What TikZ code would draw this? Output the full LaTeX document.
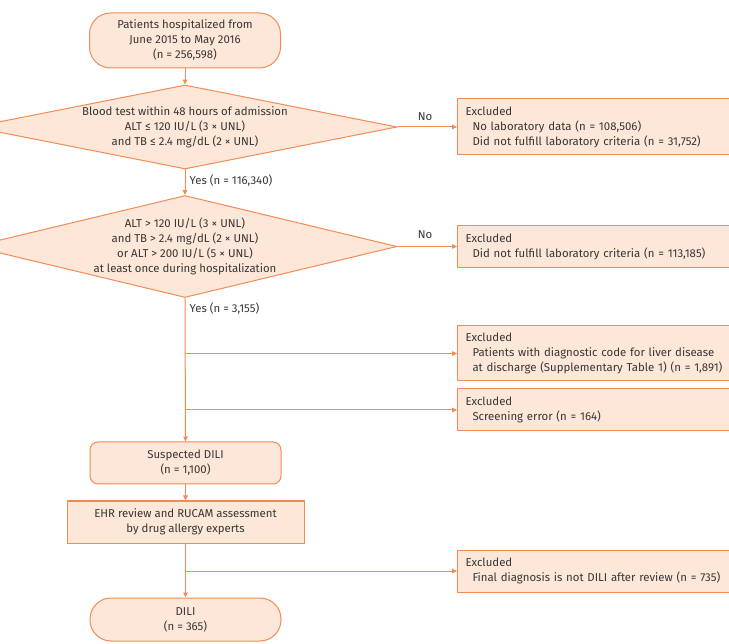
\documentclass[tikz,border=0pt]{standalone}
\usepackage{fontspec}
\setmainfont{Fira Sans}
\usetikzlibrary{shapes.geometric,arrows.meta}
\definecolor{ln}{RGB}{242,140,84}
\definecolor{fl}{RGB}{253,231,216}
\definecolor{tx}{RGB}{55,55,55}
\begin{document}
\begin{tikzpicture}[x=1pt,y=-1pt,
  txt/.style={text=tx, font=\fontsize{11.4}{15}\selectfont, inner sep=0pt},
  box/.style={txt, draw=ln, fill=fl, line width=1pt, align=center},
  term/.style={box, minimum width=191pt, rounded corners=21pt},
  proc/.style={box, rounded corners=8pt, minimum width=191pt, minimum height=42pt},
  dia/.style={diamond, draw=ln, fill=fl, line width=1pt, minimum width=424pt, inner sep=0pt},
  excl/.style={box, anchor=west, align=left, minimum width=276pt, text width=260pt, inner xsep=8pt},
  arr/.style={draw=ln, line width=1pt, -{Triangle[length=5pt,width=4.5pt]}},
  lbl/.style={txt}
]
\clip (0,0) rectangle (729,644);
\fill[white] (0,0) rectangle (729,644);

% main column
\node[term, minimum height=55pt] (top) at (185,40.5) {Patients hospitalized from\\June 2015 to May 2016\\(n = 256,598)};
\node[dia, minimum height=84pt] (d1) at (185,127) {};
\node[txt, align=center] (d1t) at (d1) {Blood test within 48 hours of admission\\ALT ≤ 120 IU/L (3 × UNL)\\and TB ≤ 2.4 mg/dL (2 × UNL)};
\node[dia, minimum height=102pt] (d2) at (185,246.5) {};
\node[txt, align=center] (d2t) at (d2) {ALT > 120 IU/L (3 × UNL)\\and TB > 2.4 mg/dL (2 × UNL)\\or ALT > 200 IU/L (5 × UNL)\\at least once during hospitalization};
\node[proc] (sus) at (185.5,463) {Suspected DILI\\(n = 1,100)};
\node[box, minimum width=237pt, minimum height=42pt] (ehr) at (185.5,522) {EHR review and RUCAM assessment\\by drug allergy experts};
\node[term, minimum height=43pt] (dili) at (185.5,619.5) {DILI\\(n = 365)};

% excluded boxes
\node[excl, minimum height=56pt] (e1) at (457,127) {Excluded\\\hspace*{7pt}No laboratory data (n = 108,506)\\\hspace*{7pt}Did not fulfill laboratory criteria (n = 31,752)};
\node[excl, minimum height=42pt] (e2) at (457,246.5) {Excluded\\\hspace*{7pt}Did not fulfill laboratory criteria (n = 113,185)};
\node[excl, minimum height=55pt] (e3) at (457,353.5) {Excluded\\\hspace*{7pt}Patients with diagnostic code for liver disease\\\hspace*{7pt}at discharge (Supplementary Table 1) (n = 1,891)};
\node[excl, minimum height=42pt] (e4) at (457,410) {Excluded\\\hspace*{7pt}Screening error (n = 164)};
\node[excl, minimum height=42pt] (e5) at (457,571) {Excluded\\\hspace*{7pt}Final diagnosis is not DILI after review (n = 735)};

% labels
\node[lbl] (no1) at (425,117) {No};
\node[lbl] (no2) at (425,235) {No};
\node[lbl, anchor=west] (y1) at (189.5,181) {Yes (n = 116,340)};
\node[lbl, anchor=west] (y2) at (189.5,308.5) {Yes (n = 3,155)};

% connectors
\draw[arr] (top) -- (d1);
\draw[arr] (d1) -- (d2);
\draw[arr] (d1.east) -- (e1.west);
\draw[arr] (d2.east) -- (e2.west);
\draw[arr] (d2.south) -- (sus.north);
\draw[arr] (sus) -- (ehr);
\draw[arr] (ehr) -- (dili);
\draw[arr] (e3.west -| d2.south) -- (e3.west);
\draw[arr] (e4.west -| d2.south) -- (e4.west);
\draw[arr] (e5.west -| ehr.south) -- (e5.west);
\end{tikzpicture}
\end{document}
